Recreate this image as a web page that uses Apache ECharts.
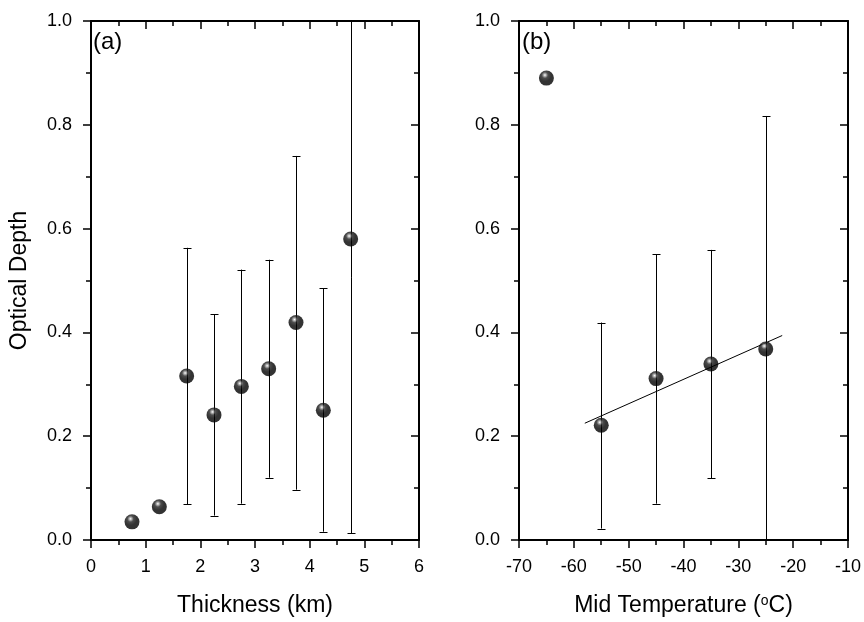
<!DOCTYPE html>
<html>
<head>
<meta charset="utf-8">
<script src="https://cdn.jsdelivr.net/npm/echarts@6/dist/echarts.min.js"></script>
<style>html,body{margin:0;padding:0;background:#fff}#c{width:864px;height:622px}</style>
</head>
<body>
<div id="c"></div>
<script>
// ---- data ----
const thickX    = [0.75, 1.25, 1.75, 2.25, 2.75, 3.25, 3.75, 4.25, 4.75];
const thickMean = [0.035, 0.064, 0.316, 0.241, 0.296, 0.330, 0.419, 0.250, 0.580];
const thickLow  = [null, null, 0.069, 0.047, 0.070, 0.120, 0.097, 0.016, 0.013];
const thickHigh = [null, null, 0.563, 0.435, 0.521, 0.540, 0.740, 0.485, 1.05];

const tempX    = [-65, -55, -45, -35, -25];
const tempMean = [0.890, 0.221, 0.311, 0.339, 0.368];
const tempLow  = [null, 0.022, 0.070, 0.119, -0.05];
const tempHigh = [null, 0.419, 0.551, 0.559, 0.817];

const fitX = [-58, -22];
const fitY = [0.225, 0.394];

const yTicks = ['0.0', '0.2', '0.4', '0.6', '0.8', '1.0'];
const panelLabels = ['(a)', '(b)'];
const xTitles = ['Thickness (km)', 'Mid Temperature ({sup|o}C)'];
const yTitle = 'Optical Depth';

// ---- build ----
const FONT = "'Liberation Sans', Arial, sans-serif";
const chart = echarts.init(document.getElementById('c'));

const sphere = new echarts.graphic.RadialGradient(0.4, 0.3, 0.7, [
  {offset: 0, color: '#ffffff'},
  {offset: 0.1, color: '#b0b0b0'},
  {offset: 0.3, color: '#202020'},
  {offset: 0.6, color: '#000000'},
  {offset: 1, color: '#000000'}
]);

function pts(xs, ys) { return xs.map((x, i) => [x, ys[i]]); }
function bars(xs, lo, hi) {
  const out = [];
  xs.forEach((x, i) => { if (lo[i] !== null) out.push([x, lo[i], hi[i]]); });
  return out;
}

function errRender(params, api) {
  const x = api.value(0), lo = api.value(1), hi = api.value(2);
  const cs = params.coordSys;
  const pHi = api.coord([x, hi]);
  const pLo = api.coord([x, lo]);
  const top = cs.y, bot = cs.y + cs.height;
  let yHi = pHi[1], yLo = pLo[1];
  const hiClip = yHi < top, loClip = yLo > bot;
  yHi = Math.max(yHi, top); yLo = Math.min(yLo, bot);
  const px = Math.round(pHi[0]) + 0.5;
  const st = {stroke: '#000', lineWidth: 1};
  const w = 4;
  const ch = [{type: 'line', shape: {x1: px, y1: yHi, x2: px, y2: yLo}, style: st}];
  if (!hiClip) ch.push({type: 'line', shape: {x1: px - w, y1: Math.round(yHi) + 0.5, x2: px + w, y2: Math.round(yHi) + 0.5}, style: st});
  if (!loClip) ch.push({type: 'line', shape: {x1: px - w, y1: Math.round(yLo) + 0.5, x2: px + w, y2: Math.round(yLo) + 0.5}, style: st});
  return {type: 'group', children: ch};
}

const grids = [
  {left: 91, top: 21, width: 328, height: 520},
  {left: 519, top: 21, width: 329, height: 520}
];

const xRanges = [{min: 0, max: 6, interval: 1}, {min: -70, max: -10, interval: 10}];

const xAxes = [], yAxes = [];
[0, 1].forEach(g => {
  const r = xRanges[g];
  xAxes.push({
    type: 'value', gridIndex: g, position: 'bottom', min: r.min, max: r.max, interval: r.interval,
    axisLine: {show: true, onZero: false, lineStyle: {color: '#000', width: 2}},
    axisTick: {show: true, inside: false, length: 8, lineStyle: {color: '#000', width: 1.5}},
    minorTick: {show: true, splitNumber: 2, length: 5, lineStyle: {color: '#000', width: 1.5}},
    splitLine: {show: false},
    axisLabel: {color: '#000', fontSize: 18, fontFamily: FONT, margin: 18},
    name: xTitles[g], nameLocation: 'middle', nameGap: 54,
    nameTextStyle: {color: '#000', fontSize: 23, fontFamily: FONT,
      rich: {sup: {fontSize: 14, fontFamily: FONT, color: '#000', verticalAlign: 'top', lineHeight: 4}}}
  });
  xAxes.push({
    type: 'value', gridIndex: g, position: 'top', min: r.min, max: r.max, interval: r.interval,
    axisLine: {show: true, onZero: false, lineStyle: {color: '#000', width: 2}},
    axisTick: {show: true, inside: true, length: 8, lineStyle: {color: '#000', width: 1.5}},
    minorTick: {show: true, splitNumber: 2, length: 5, lineStyle: {color: '#000', width: 1.5}},
    splitLine: {show: false}, axisLabel: {show: false}
  });
  yAxes.push({
    type: 'value', gridIndex: g, position: 'left', min: 0, max: 1, interval: 0.2,
    axisLine: {show: true, onZero: false, lineStyle: {color: '#000', width: 2}},
    axisTick: {show: true, inside: false, length: 8, lineStyle: {color: '#000', width: 1.5}},
    minorTick: {show: true, splitNumber: 2, length: 5, lineStyle: {color: '#000', width: 1.5}},
    splitLine: {show: false},
    axisLabel: {color: '#000', fontSize: 18, fontFamily: FONT, margin: 19,
      formatter: v => yTicks[Math.round(v / 0.2)]},
    name: g === 0 ? yTitle : '', nameLocation: 'middle', nameGap: 60,
    nameTextStyle: {color: '#000', fontSize: 23, fontFamily: FONT}
  });
  yAxes.push({
    type: 'value', gridIndex: g, position: 'right', min: 0, max: 1, interval: 0.2,
    axisLine: {show: true, onZero: false, lineStyle: {color: '#000', width: 2}},
    axisTick: {show: true, inside: true, length: 8, lineStyle: {color: '#000', width: 1.5}},
    minorTick: {show: true, splitNumber: 2, length: 5, lineStyle: {color: '#000', width: 1.5}},
    splitLine: {show: false}, axisLabel: {show: false}
  });
});

const scatterStyle = {color: sphere, shadowBlur: 0};

const option = {
  backgroundColor: '#fff',
  animation: false,
  grid: grids,
  xAxis: xAxes,
  yAxis: yAxes,
  graphic: [
    {type: 'text', left: 93, top: 30, style: {text: panelLabels[0], fontSize: 24, fontFamily: FONT, fill: '#000'}},
    {type: 'text', left: 522, top: 30, style: {text: panelLabels[1], fontSize: 24, fontFamily: FONT, fill: '#000'}}
  ],
  series: [
    {type: 'custom', xAxisIndex: 0, yAxisIndex: 0, data: bars(thickX, thickLow, thickHigh), renderItem: errRender, z: 2},
    {type: 'custom', xAxisIndex: 2, yAxisIndex: 2, data: bars(tempX, tempLow, tempHigh), renderItem: errRender, z: 2},
    {type: 'line', xAxisIndex: 2, yAxisIndex: 2, data: pts(fitX, fitY), showSymbol: false, symbol: 'none',
      lineStyle: {color: '#000', width: 1}, z: 3},
    {type: 'scatter', xAxisIndex: 0, yAxisIndex: 0, data: pts(thickX, thickMean), symbolSize: 15, itemStyle: scatterStyle, z: 5},
    {type: 'scatter', xAxisIndex: 2, yAxisIndex: 2, data: pts(tempX, tempMean), symbolSize: 15, itemStyle: scatterStyle, z: 5}
  ]
};
chart.setOption(option);
</script>
</body>
</html>
